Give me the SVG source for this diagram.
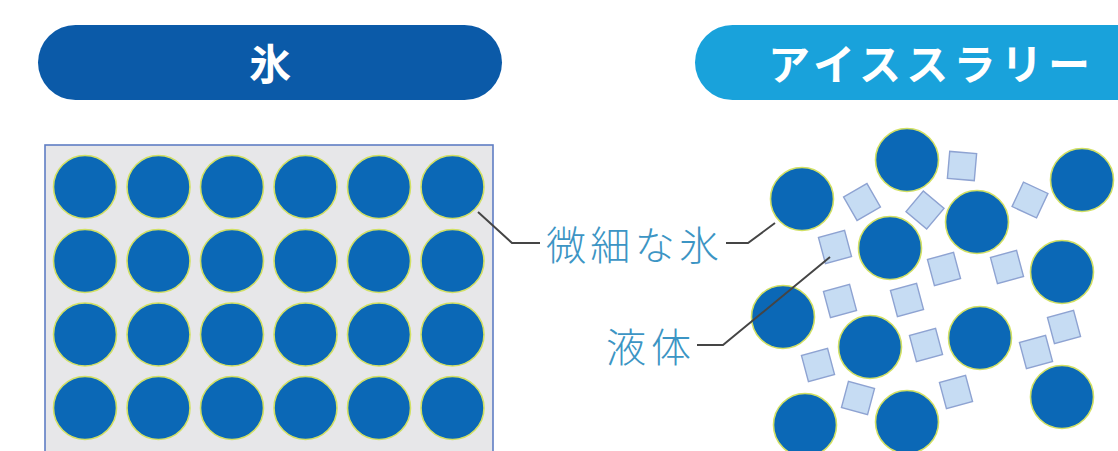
<svg xmlns="http://www.w3.org/2000/svg" width="1118" height="451" viewBox="0 0 1118 451">
<style>
.ice{fill:#0b68b6;stroke:#d2e063;stroke-width:1.6}
.liq{fill:#c6dcf3;stroke:#8ea3d2;stroke-width:1.4}
.lead{fill:none;stroke:#454545;stroke-width:2}
.lbl{font-family:"Noto Sans CJK JP","Noto Sans",sans-serif;font-weight:300;font-size:40px;fill:#3c95c4}
.ttl{font-family:"Noto Sans CJK JP","Noto Sans",sans-serif;font-weight:700;font-size:42px;fill:#ffffff}
</style>
<defs>
<circle id="c" r="31.5" class="ice"/>
<rect id="s" x="-13.5" y="-13.5" width="27" height="27" class="liq"/>
</defs>
<rect width="1118" height="451" fill="#ffffff"/>
<g id="title-ice">
<rect x="38" y="25" width="464" height="75" rx="37.5" fill="#0b5aa8"/>
<text class="ttl" x="270" y="61" text-anchor="middle" dominant-baseline="central">氷</text>
</g>
<g id="title-slurry">
<rect x="695" y="25" width="460" height="75" rx="37.5" fill="#19a2db"/>
<text class="ttl" x="768" y="61" dominant-baseline="central" textLength="322" lengthAdjust="spacing">アイススラリー</text>
</g>
<g id="ice-block">
<rect x="45" y="145" width="448" height="320" fill="#e7e7e9" stroke="#5f7ec4" stroke-width="1.6"/>
<g>
<use href="#c" x="85" y="187"/><use href="#c" x="158.5" y="187"/><use href="#c" x="232" y="187"/><use href="#c" x="305.5" y="187"/><use href="#c" x="379" y="187"/><use href="#c" x="452.5" y="187"/>
<use href="#c" x="85" y="261"/><use href="#c" x="158.5" y="261"/><use href="#c" x="232" y="261"/><use href="#c" x="305.5" y="261"/><use href="#c" x="379" y="261"/><use href="#c" x="452.5" y="261"/>
<use href="#c" x="85" y="334.5"/><use href="#c" x="158.5" y="334.5"/><use href="#c" x="232" y="334.5"/><use href="#c" x="305.5" y="334.5"/><use href="#c" x="379" y="334.5"/><use href="#c" x="452.5" y="334.5"/>
<use href="#c" x="85" y="408"/><use href="#c" x="158.5" y="408"/><use href="#c" x="232" y="408"/><use href="#c" x="305.5" y="408"/><use href="#c" x="379" y="408"/><use href="#c" x="452.5" y="408"/>
</g>
</g>
<g id="slurry">
<g>
<use href="#s" transform="translate(962,166) rotate(5)"/>
<use href="#s" transform="translate(862,202) rotate(-30)"/>
<use href="#s" transform="translate(925,210) rotate(40)"/>
<use href="#s" transform="translate(1030,200) rotate(25)"/>
<use href="#s" transform="translate(835,247) rotate(-15)"/>
<use href="#s" transform="translate(944,269) rotate(-15)"/>
<use href="#s" transform="translate(1007,267) rotate(-15)"/>
<use href="#s" transform="translate(840,301) rotate(-15)"/>
<use href="#s" transform="translate(907,300) rotate(-15)"/>
<use href="#s" transform="translate(926,345) rotate(-15)"/>
<use href="#s" transform="translate(1064,327) rotate(-15)"/>
<use href="#s" transform="translate(1036,352) rotate(-15)"/>
<use href="#s" transform="translate(818,365) rotate(-15)"/>
<use href="#s" transform="translate(858,398) rotate(15)"/>
<use href="#s" transform="translate(956,392) rotate(-15)"/>
</g>
<g>
<use href="#c" x="802" y="199"/>
<use href="#c" x="907" y="160"/>
<use href="#c" x="1082" y="180"/>
<use href="#c" x="890" y="248"/>
<use href="#c" x="977" y="222"/>
<use href="#c" x="1062" y="272"/>
<use href="#c" x="783" y="317"/>
<use href="#c" x="870" y="347"/>
<use href="#c" x="980" y="338"/>
<use href="#c" x="1062" y="397"/>
<use href="#c" x="805" y="425"/>
<use href="#c" x="907" y="422"/>
</g>
</g>
<g id="connectors">
<polyline class="lead" points="478,212 512,243 540,243"/>
<polyline class="lead" points="726,243 748,243 775,223"/>
<polyline class="lead" points="697,345 723,345 830,257"/>
</g>
<g id="labels">
<text class="lbl" x="546" y="243" dominant-baseline="central" textLength="173" lengthAdjust="spacing">微細な氷</text>
<text class="lbl" x="606" y="345" dominant-baseline="central" textLength="85" lengthAdjust="spacing">液体</text>
</g>
</svg>
